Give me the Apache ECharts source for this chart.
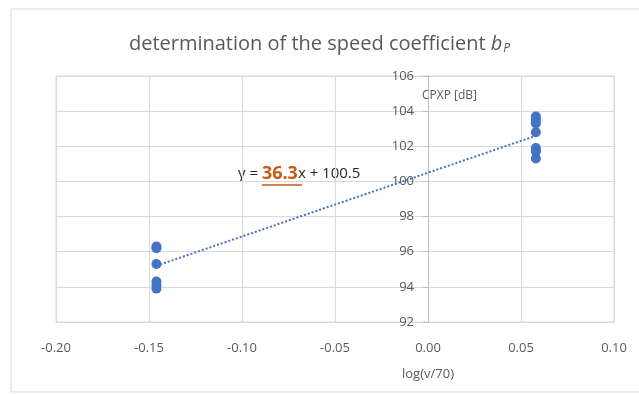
<!DOCTYPE html>
<html>
<head>
<meta charset="utf-8">
<script src="https://cdn.jsdelivr.net/npm/echarts@6/dist/echarts.min.js"></script>
<style>
  html, body { margin: 0; padding: 0; background: #fff; }
  #chart { width: 639px; height: 394px; }
</style>
</head>
<body>
<div id="chart"></div>
<script>
// measured points, log(v/70) vs CPXP
var lowX = [-0.146, -0.146, -0.146, -0.146, -0.146, -0.146];
var lowY = [96.3, 96.2, 95.3, 94.3, 94.1, 93.9];
var highX = [0.058, 0.058, 0.058, 0.058, 0.058, 0.058, 0.058];
var highY = [103.7, 103.5, 103.3, 102.8, 101.9, 101.7, 101.3];
// linear trend line end points
var trendX = [-0.146, 0.058];
var trendY = [95.2, 102.6];
var xTicks = [-0.2, 0.1, 0.05];
var yTicks = [92, 106, 2];

var chartDom = document.getElementById('chart');
var myChart = echarts.init(chartDom);

var points = [];
for (let i = 0; i < lowX.length; i++) points.push([lowX[i], lowY[i]]);
for (let i = 0; i < highX.length; i++) points.push([highX[i], highY[i]]);
var trend = [];
for (let i = 0; i < trendX.length; i++) trend.push([trendX[i], trendY[i]]);

var grey = '#595959';
var option = {
  animation: false,
  textStyle: { fontFamily: 'Open Sans' },
  title: {
    text: '{a|determination of the speed coefficient }{b|b}{c|P}',
    left: 'center',
    top: 29,
    textStyle: {
      fontWeight: 'normal',
      rich: {
        a: { fontSize: 20, color: grey, fontWeight: 'normal', fontFamily: 'Open Sans' },
        b: { fontSize: 20, color: grey, fontWeight: 'normal', fontStyle: 'italic', fontFamily: 'Open Sans' },
        c: { fontSize: 12, color: grey, fontWeight: 'normal', fontStyle: 'italic', fontFamily: 'Open Sans', padding: [9, 0, 0, 1] }
      }
    }
  },
  grid: {
    left: 56, right: 25, top: 76, bottom: 72,
    show: true, borderColor: '#d9d9d9', borderWidth: 1
  },
  xAxis: {
    type: 'value',
    min: xTicks[0], max: xTicks[1], interval: xTicks[2],
    name: 'log(v/70)',
    nameLocation: 'middle',
    nameGap: 46,
    nameTextStyle: { color: grey, fontSize: 13, padding: [0, 0, 0, 186] },
    axisLine: { onZero: false, show: false },
    axisTick: { show: false },
    axisLabel: {
      color: grey, fontSize: 13, margin: 20,
      formatter: function (v) { return v.toFixed(2); }
    },
    splitLine: { lineStyle: { color: '#d9d9d9' } }
  },
  yAxis: {
    type: 'value',
    min: yTicks[0], max: yTicks[1], interval: yTicks[2],
    offset: -372,
    name: 'CPXP [dB]',
    nameLocation: 'end',
    nameGap: -26,
    nameTextStyle: { color: grey, fontSize: 12, align: 'left', padding: [0, 0, 0, -6] },
    axisLine: { show: true, onZero: false, lineStyle: { color: '#bfbfbf' } },
    axisTick: { show: true, length: 5, lineStyle: { color: '#bfbfbf' } },
    axisLabel: { color: grey, fontSize: 13, margin: 14 },
    splitLine: { lineStyle: { color: '#d9d9d9' } }
  },
  graphic: [
    {
      type: 'rect',
      shape: { x: 11, y: 9, width: 700, height: 383 },
      style: { fill: 'none', stroke: '#d9d9d9', lineWidth: 1 },
      silent: true
    },
    {
      type: 'text',
      left: 238, top: 165,
      style: {
        text: '{n|y = }{k|36.3}{n|x + 100.5}',
        rich: {
          n: { fontSize: 15, fill: '#262626', fontFamily: 'Open Sans' },
          k: { fontSize: 18, fill: '#c55a11', fontWeight: 'bold', fontFamily: 'Open Sans' }
        }
      }
    },
    {
      type: 'line',
      shape: { x1: 262, y1: 185, x2: 302, y2: 185 },
      style: { stroke: '#c55a11', lineWidth: 1.5 }
    }
  ],
  series: [
    {
      type: 'line',
      data: trend,
      symbol: 'none',
      lineStyle: { color: '#4472c4', width: 2, type: [2, 2] },
      z: 2
    },
    {
      type: 'scatter',
      data: points,
      symbolSize: 10,
      itemStyle: { color: '#4472c4', opacity: 1 },
      z: 3
    }
  ]
};
option && myChart.setOption(option);
</script>
</body>
</html>
